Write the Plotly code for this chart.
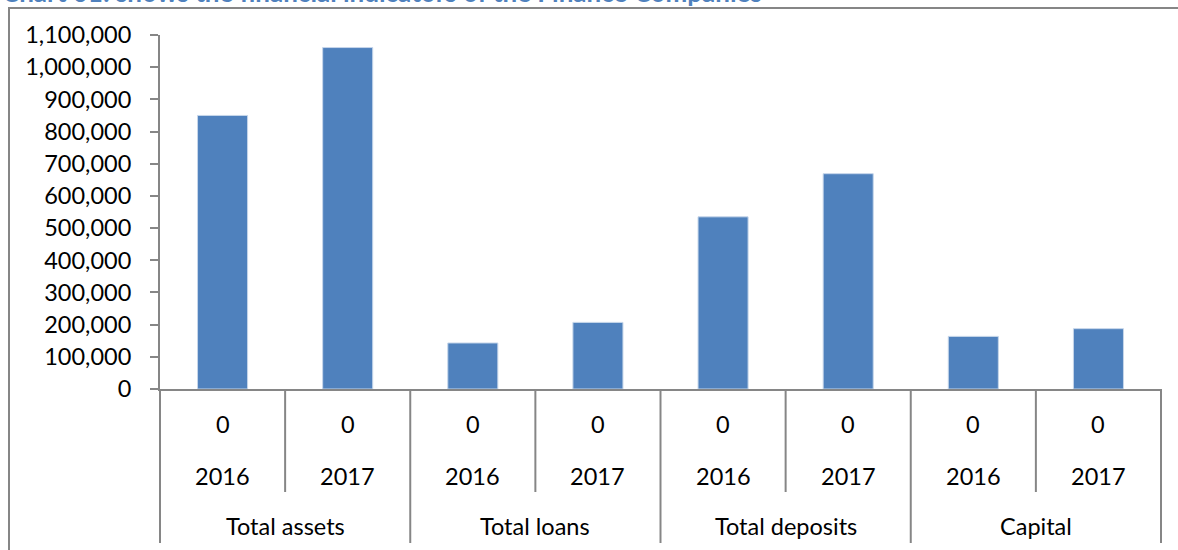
import plotly.graph_objects as go

# Financial indicators of the finance companies, 2016-2017
groups = ["Total assets", "Total loans", "Total deposits", "Capital"]
years = ["2016", "2017"]
row_labels = ["0", "0", "0", "0", "0", "0", "0", "0"]
values = [850000, 1061000, 143000, 207000, 535000, 669000, 163500, 187500]
y_ticks = list(range(0, 1100001, 100000))
title_text = "Chart 01: shows the financial indicators of the Finance Companies"

W, H = 1178, 550
ML, MR, MT, MB = 160, 17, 35, 161
PW, PH = W - ML - MR, H - MT - MB
GRAY = "#868686"
BLUE = "#4F81BD"
FONT = "Lato"
FS = 23.5


def py2paper(py):
    return (H - MB - py) / PH


def px2paper(px):
    return (px - ML) / PW


n = len(values)
xs = list(range(n))

fig = go.Figure(
    go.Bar(
        x=xs,
        y=values,
        marker=dict(color=BLUE, line=dict(color="#c6d6ea", width=1)),
        showlegend=False,
    )
)

shapes = []
# category dividers below the baseline
for i in range(n + 1):
    bottom = 543 if i % 2 == 0 else 492
    shapes.append(dict(type="line", xref="paper", yref="paper",
                       x0=i / n, x1=i / n, y0=0, y1=py2paper(bottom),
                       line=dict(color=GRAY, width=2)))
# outer frame (left and top edges)
shapes.append(dict(type="line", xref="paper", yref="paper",
                   x0=px2paper(9), x1=px2paper(9), y0=py2paper(8), y1=py2paper(H + 5),
                   line=dict(color=GRAY, width=2)))
shapes.append(dict(type="line", xref="paper", yref="paper",
                   x0=px2paper(8), x1=px2paper(W + 5), y0=py2paper(8), y1=py2paper(8),
                   line=dict(color=GRAY, width=2)))

label_font = dict(family=FONT, size=FS, color="black")
annotations = []
for i in range(n):
    annotations.append(dict(x=xs[i], xref="x", y=py2paper(424), yref="paper",
                            yanchor="middle", text=row_labels[i], showarrow=False,
                            font=label_font))
    annotations.append(dict(x=xs[i], xref="x", y=py2paper(476), yref="paper",
                            yanchor="middle", text=years[i % 2], showarrow=False,
                            font=label_font))
for g, name in enumerate(groups):
    annotations.append(dict(x=2 * g + 0.5, xref="x", y=py2paper(526), yref="paper",
                            yanchor="middle", text=name, showarrow=False,
                            font=label_font))
annotations.append(dict(x=px2paper(0), xref="paper", y=py2paper(10), yref="paper",
                        xanchor="left", yanchor="bottom", text=title_text,
                        showarrow=False,
                        font=dict(family=FONT, size=26, color=BLUE, weight="bold")))

fig.update_layout(
    width=W, height=H,
    margin=dict(l=ML, r=MR, t=MT, b=MB),
    paper_bgcolor="white", plot_bgcolor="white",
    bargap=0.6,
    shapes=shapes,
    annotations=annotations,
    font=dict(family=FONT, size=FS, color="black"),
    xaxis=dict(range=[-0.5, n - 0.5], showticklabels=False, ticks="",
               showgrid=False, zeroline=False, showline=True,
               linecolor=GRAY, linewidth=2),
    yaxis=dict(range=[0, 1100000], tickvals=y_ticks,
               ticktext=[f"{v:,}" for v in y_ticks],
               ticks="outside", ticklen=8, tickwidth=2, tickcolor=GRAY,
               ticklabelstandoff=14,
               showgrid=False, zeroline=False, showline=True,
               linecolor=GRAY, linewidth=2,
               tickfont=label_font),
)

fig.write_html("out.html")
